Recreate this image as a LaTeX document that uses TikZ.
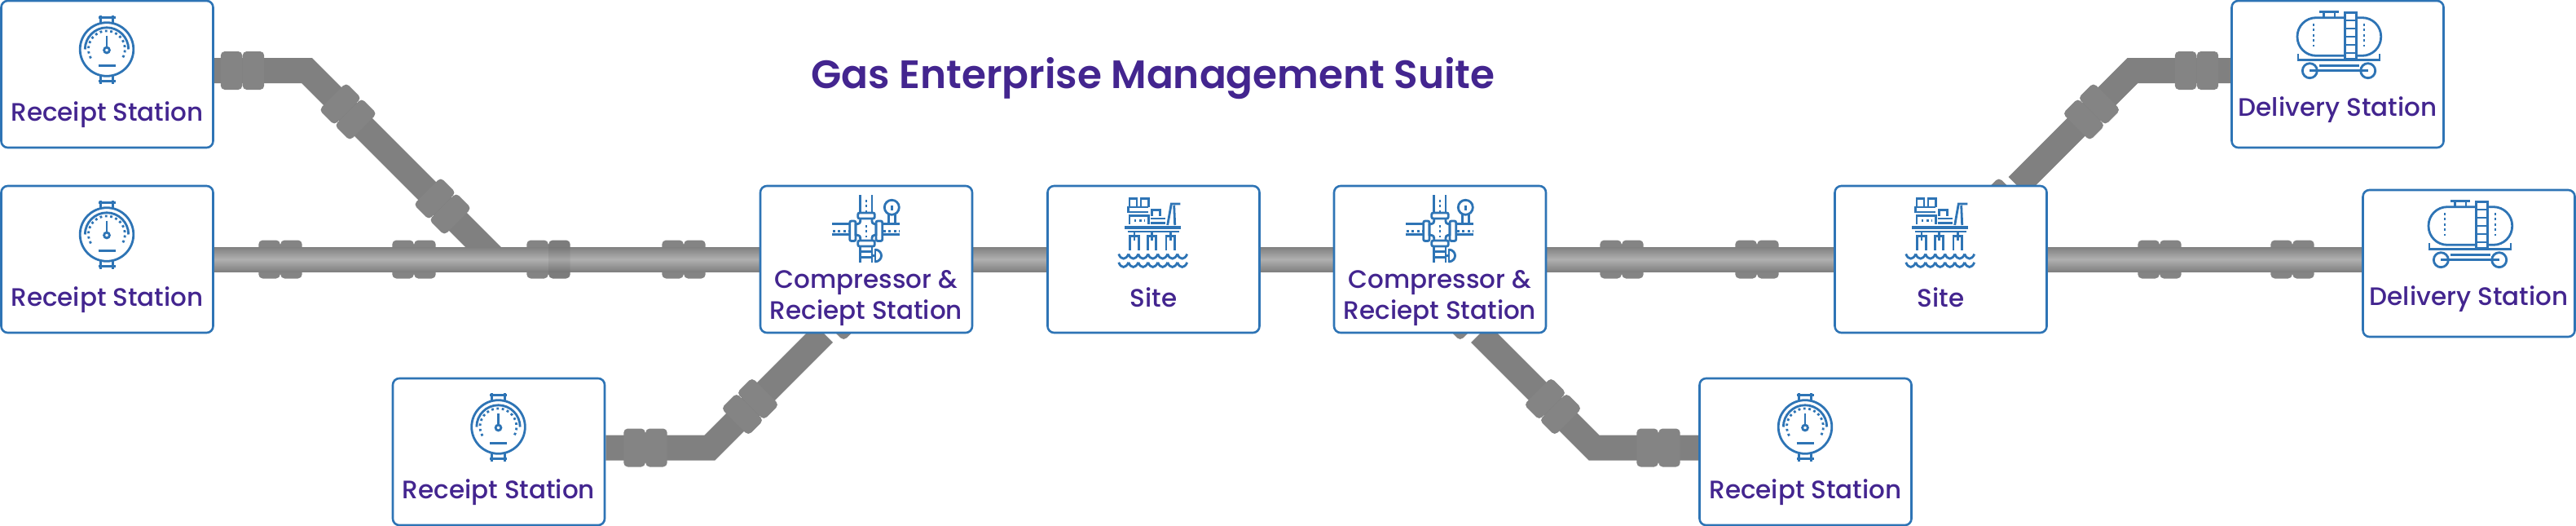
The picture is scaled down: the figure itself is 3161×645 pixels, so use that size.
\documentclass[tikz,border=0pt]{standalone}
\usepackage{fontspec}
\setmainfont{Poppins}
\newfontfamily\stationfont{Poppins Medium}
\newfontfamily\suitefont{Poppins SemiBold}
\usepackage{xcolor}
\definecolor{framebl}{RGB}{46,116,181}
\definecolor{titlepu}{RGB}{67,37,143}
\definecolor{pipedark}{RGB}{128,128,128}
\definecolor{pipelite}{RGB}{176,176,176}
\definecolor{flangegr}{RGB}{132,132,132}
\usetikzlibrary{positioning}
\usetikzlibrary{backgrounds}

\tikzset{
  x=1pt,y=-1pt,
  iconline/.style={draw=framebl,line width=2.8pt},
  icondots/.style={draw=framebl,line width=2.8pt,dash pattern=on 2.8pt off 3.6pt},
  stationbox/.style={draw=framebl,fill=white,line width=2.6pt,rounded corners=8pt,
    minimum width=260pt,minimum height=180pt,inner sep=0pt},
  stationtext/.style={text=titlepu,align=center,inner sep=0pt,
    font=\stationfont\fontsize{31}{38}\selectfont},
  pipeline/.style={draw=pipedark,line width=31pt},
  flangehalf/.style={fill=flangegr,minimum width=26.5pt,minimum height=47pt,
    inner sep=0pt,rounded corners=5pt},
  pics/station/.style n args={3}{code={
    \node[stationbox] (-box) at (0,0) {};
    #1
    \node[stationtext] (-text) at (0,#2) {#3};
  }},
}

% two halves of a coupling, at its centre
\newcommand{\flange}[4]{
  \node[flangehalf,rotate=#4,anchor=east] (#1-a) at (#2,#3) {};
  \node[flangehalf,rotate=#4,anchor=west] (#1-b) at (#2,#3) {};
}
% pipe with a lighter middle, built from thinner and thinner strokes
\newcommand{\mainpipe}[2]{
  \foreach \w in {31,29,...,1}{
    \pgfmathsetmacro{\shadeval}{100*(31-\w)/30}
    \draw[draw=pipelite!\shadeval!pipedark,line width=\w pt] #1 -- #2;
  }
}

\newcommand{\gaugeicon}{
  \begin{scope}[shift={(-0.5,-30.5)}]
  \draw[iconline] (0,0) circle[radius=32.8];
  \draw[iconline] (-26.7,0) arc[start angle=180,end angle=360,radius=26.7];
  \draw[icondots] (-19.5,11) arc[start angle=150,end angle=390,radius=22.4];
  \draw[iconline] (0,-17) -- (0,-3);
  \draw[iconline] (0,1) circle[radius=3.4];
  \draw[draw=framebl,line width=3pt] (-10.5,19.5) -- (10.5,19.5);
  \draw[iconline] (-7.7,-32) -- (-7.7,-42) (7.7,-32) -- (7.7,-42) (-10.5,-39) -- (10.5,-39);
  \draw[iconline] (-7.7,32) -- (-7.7,42) (7.7,32) -- (7.7,42) (-10.5,38.8) -- (10.5,38.8);
  \end{scope}
}
\newcommand{\compressoricon}{
  \draw[iconline] (-7.3,-79) -- (-7.3,-57) (7,-79) -- (7,-57);
  \draw[icondots] (0,-73) -- (0,-58);
  \draw[iconline,rounded corners=2pt] (-10.3,-57) rectangle (10.3,-50);
  \draw[iconline] (-7.3,-50) .. controls (-7.3,-44) .. (-13,-43) -- (-13,-30) .. controls (-7.3,-29) .. (-7.3,-23);
  \draw[iconline] (7,-50) .. controls (7,-44) .. (12,-43) -- (12,-30) .. controls (7,-29) .. (7,-23);
  \draw[icondots] (0,-42) -- (0,-27);
  \draw[iconline,rounded corners=2pt] (-20.3,-47) rectangle (-13,-22.5);
  \draw[iconline,rounded corners=2pt] (12,-47) rectangle (19.7,-22.5);
  \draw[iconline] (-42,-43.7) -- (-20.3,-43.7) (19.7,-43.7) -- (41.3,-43.7);
  \draw[iconline] (-42,-30.5) -- (-20.3,-30.5) (19.7,-30.5) -- (41.3,-30.5);
  \draw[icondots] (-41,-34.5) -- (-21,-34.5);
  \draw[icondots] (21,-34.5) -- (41,-34.5);
  \draw[iconline] (31.3,-63.7) circle[radius=9];
  \draw[iconline] (27.7,-55) -- (27.7,-43.7) (35.3,-55) -- (35.3,-43.7) (31.3,-66) -- (31.3,-60);
  \draw[iconline,rounded corners=2pt] (-10.3,-23) rectangle (10.3,-16);
  \draw[iconline] (-7.3,-16) -- (-7.3,4) (7,-16) -- (7,4) (-7.3,-9.5) -- (7,-9.5) (-7.3,-2.5) -- (7,-2.5);
  \draw[iconline] (11,-13) -- (11,4) (7,-4.5) -- (11,-4.5);
  \draw[iconline] (11,-12) .. controls (21,-11) and (21,2) .. (11,3);
}
\newcommand{\platformicon}{
  \draw[iconline] (-29.5,-64) -- (-29.5,-74.7) -- (-20.5,-74.7) -- (-20.5,-64);
  \draw[iconline] (-15.5,-64) -- (-15.5,-74.7) -- (-6.2,-74.7) -- (-6.2,-64);
  \draw[iconline] (-6.2,-64) -- (-31,-64) -- (-31,-58) -- (-6.2,-58);
  \draw[iconline] (-29.5,-43) -- (-29.5,-53.7) -- (-6.2,-53.7) -- (-6.2,-43);
  \draw[icondots] (-24,-47.5) -- (-11,-47.5);
  \draw[iconline] (-2,-53) -- (-2,-60.7) -- (8,-60.7) -- (8,-53);
  \draw[iconline] (-3.8,-50) -- (14.5,-50) (-3.8,-44.7) -- (14.5,-44.7);
  \draw[iconline] (17.2,-42) -- (21.8,-68) -- (32.8,-68) (26.2,-42) -- (25.2,-66);
  \draw[draw=framebl,line width=3.6pt] (-35.5,-39) -- (33.8,-39);
  \draw[iconline] (-32,-34) -- (31,-34);
  \foreach \legx in {-28.8,-7.2,15.5}{
    \draw[iconline] (\legx,-11.3) -- (\legx,-28.7) -- (\legx+10.5,-28.7) -- (\legx+10.5,-11.3);
    \draw[iconline] (\legx+5.2,-34) -- (\legx+5.2,-23);
  }
  \foreach \wavey in {-6.5,3.8}{
    \foreach \wavex in {-42.8,-30.8,...,35}{
      \draw[iconline] (\wavex,\wavey) .. controls (\wavex+3,\wavey+7.5) and (\wavex+9,\wavey+7.5) .. (\wavex+12,\wavey);
    }
  }
}
\newcommand{\tankicon}{
  \draw[iconline,rounded corners=23pt] (-49.5,-69.3) rectangle (53.2,-22.7);
  \draw[iconline,fill=white] (9.2,-75.3) rectangle (23.2,-18.3);
  \foreach \rungy in {-66,-56,-46,-36,-26}{
    \draw[iconline] (9.2,\rungy) -- (23.2,\rungy);
  }
  \draw[iconline] (-22.8,-76.7) -- (1.5,-76.7) (-16.8,-76.7) -- (-16.8,-69.3) (-3.5,-76.7) -- (-3.5,-69.3);
  \draw[icondots] (-29.5,-62) -- (-29.5,-32);
  \draw[icondots] (32.5,-62) -- (32.5,-32);
  \draw[iconline] (-48.5,-25) -- (-48.5,-17.5) -- (51.5,-17.5) -- (51.5,-25);
  \draw[iconline] (-22.8,-10.3) -- (26,-10.3);
  \draw[iconline] (-34.2,-4.3) circle[radius=9] (37.2,-4.3) circle[radius=9];
  \draw[iconline] (-34.2,-4.3) -- (37.2,-4.3);
}

\begin{document}
\begin{tikzpicture}
\useasboundingbox (0,0) rectangle (3161,645);

\node[text=titlepu,inner sep=0pt,font=\suitefont\fontsize{48.5}{54}\selectfont] (suite) at (1415,96) {Gas Enterprise Management Suite};

\pic (rs1) at (131.5,91) {station={\gaugeicon}{49.5}{Receipt Station}};
\pic (rs2) at (131.5,318) {station={\gaugeicon}{49.5}{Receipt Station}};
\pic (rs3) at (612,554) {station={\gaugeicon}{49.5}{Receipt Station}};
\pic (rs4) at (2215.5,554) {station={\gaugeicon}{49.5}{Receipt Station}};
\pic (cs1) at (1063,318) {station={\compressoricon}{48}{Compressor \&\\Reciept Station}};
\pic (cs2) at (1767,318) {station={\compressoricon}{48}{Compressor \&\\Reciept Station}};
\pic (site1) at (1415.5,318) {station={\platformicon}{47}{Site}};
\pic (site2) at (2381.5,318) {station={\platformicon}{47}{Site}};
\pic (ds1) at (2868.5,91) {station={\tankicon}{43.5}{Delivery Station}};
\pic (ds2) at (3029.5,323) {station={\tankicon}{43.5}{Delivery Station}};

\coordinate (bend1) at (376.5,86.5);
\coordinate (join1) at (608,318);
\coordinate (bend2) at (871,549);
\coordinate (join2) at (1011,409);
\coordinate (bend3) at (1956,549);
\coordinate (join3) at (1816,409);
\coordinate (bend4) at (2617,86.5);
\coordinate (join4) at (2475.5,228);

\begin{pgfonlayer}{background}
\draw[pipeline,line join=miter] (rs1-box.east |- bend1) -- (bend1) -- (join1);
\draw[pipeline,line join=miter] (rs3-box.east |- bend2) -- (bend2) -- (join2);
\draw[pipeline,line join=miter] (rs4-box.west |- bend3) -- (bend3) -- (join3);
\draw[pipeline,line join=miter] (ds1-box.west |- bend4) -- (bend4) -- (join4);
\flange{fa1}{297.5}{86.5}{0}
\flange{fa2}{427}{137}{-45}
\flange{fa3}{543}{253}{-45}
\flange{fb1}{792}{549}{0}
\flange{fb2}{920.5}{498.5}{45}
\flange{fb3}{1037.5}{382.5}{45}
\flange{fc1}{2035}{549}{0}
\flange{fc2}{1905.5}{498.5}{-45}
\flange{fc3}{1789.5}{382.5}{-45}
\flange{fd1}{2695.5}{86.5}{0}
\flange{fd2}{2566.5}{137}{45}
\flange{fd3}{2450.5}{253}{45}
\foreach \n/\x in {m1/344,m2/508,m3/673,m4/839,m5/1990,m6/2156,m7/2650,m8/2813}{
  \flange{\n}{\x}{318}{0}
}
\mainpipe{(rs2-box)}{(cs1-box)}
\mainpipe{(cs1-box)}{(site1-box)}
\mainpipe{(site1-box)}{(cs2-box)}
\mainpipe{(cs2-box)}{(site2-box)}
\mainpipe{(site2-box)}{(ds2-box.west |- site2-box)}
\node[flangehalf,fill=black,fill opacity=0.06,anchor=west] (m3-shade) at (673,318) {};
\end{pgfonlayer}
\end{tikzpicture}
\end{document}
